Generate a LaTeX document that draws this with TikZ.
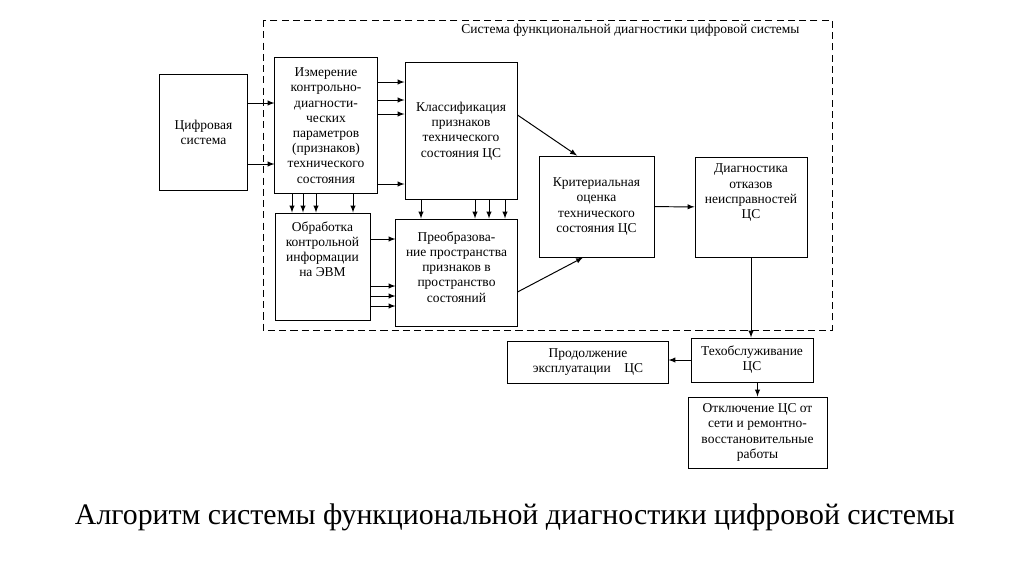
\documentclass[tikz,border=0pt]{standalone}
\usepackage{fontspec}
\setmainfont{Liberation Serif}
\usepackage{tikz}
\usetikzlibrary{positioning}

\begin{document}
\begin{tikzpicture}[x=0.025cm, y=-0.025cm, >=latex, line width=0.7pt,
    box/.style={rectangle, draw, align=center, inner sep=1pt,
        font=\fontsize{9.6}{10.8}\selectfont},
    txt/.style={align=center, inner sep=0pt, font=\fontsize{9.6}{10.8}\selectfont}]
        \useasboundingbox (0,0) rectangle (1024,574);

        % Frame
        \draw[dash pattern=on 5pt off 3pt] (263,20) rectangle (832,330);
        \node (frametitle) [txt, anchor=east] at (800,30) {Система функциональной диагностики цифровой системы};

        % Nodes
        \node (cifr) [box, minimum width=2.175cm, minimum height=2.875cm] at (203.5,132.5) {Цифровая\\система};
        \node (izmer) [box, minimum width=2.55cm, minimum height=3.375cm] at (326,125.5) {Измерение\\контрольно-\\диагности-\\ческих\\параметров\\(признаков)\\технического\\состояния};
        \node (klass) [box, minimum width=2.8cm, minimum height=3.4cm] at (461,131) {Классификация\\признаков\\технического\\состояния ЦС};
        \node (obrab) [box, minimum width=2.375cm, minimum height=2.675cm] at (322.5,266.5) {};
        \node (obrabtext) [txt, below=6pt of obrab.north] {Обработка\\контрольной\\информации\\на ЭВМ};
        \node (preob) [box, minimum width=3.025cm, minimum height=2.675cm] at (456.5,272.5) {};
        \node (preobtext) [txt, below=9pt of preob.north] {Преобразова-\\ние пространства\\признаков в\\пространство\\состояний};
        \node (krit) [box, minimum width=2.875cm, minimum height=2.525cm] at (596.5,206.5) {Критериальная\\оценка\\технического\\состояния ЦС};
        \node (diag) [box, minimum width=2.8cm, minimum height=2.5cm] at (751,207) {};
        \node (diagtext) [txt, below=5pt of diag.north] {Диагностика\\отказов\\неисправностей\\ЦС};
        \node (prodol) [box, minimum width=4cm, minimum height=1.05cm] at (588,362) {Продолжение\\эксплуатации\quad ЦС};
        \node (tekho) [box, minimum width=3.05cm, minimum height=1.1cm] at (752,360) {Техобслуживание\\ЦС};
        \node (otkl) [box, minimum width=3.475cm, minimum height=1.775cm] at (757.5,432.5) {Отключение ЦС от\\сети и ремонтно-\\восстановительные\\работы};

        % Arrows
        \foreach \yy in {103,164}
            \draw[->] (cifr.east |- 0,\yy) -- (izmer.west |- 0,\yy);
        \foreach \yy in {82,100,114,184}
            \draw[->] (izmer.east |- 0,\yy) -- (klass.west |- 0,\yy);
        \foreach \xx in {292,303,316,353}
            \draw[->] (izmer.south -| \xx,0) -- (obrab.north -| \xx,0);
        \foreach \xx in {421,475,489,505}
            \draw[->] (klass.south -| \xx,0) -- (preob.north -| \xx,0);
        \foreach \yy in {239,286,296,306}
            \draw[->] (obrab.east |- 0,\yy) -- (preob.west |- 0,\yy);
        \draw[->] (klass.east |- 0,115) -- (krit.north -| 577,0);
        \draw[->] (preob.east |- 0,292) -- (krit.south -| 583,0);
        \draw[->] (krit) -- (diag);
        \draw[->] (diag.south) -- (diag.south |- tekho.north);
        \draw[->] (tekho.west) -- (prodol.east |- tekho.west);
        \draw[->] (otkl.north |- tekho.south) -- (otkl.north);

        % Caption
        \node (caption) [inner sep=0pt, font=\fontsize{21.2}{24}\selectfont] at (515,517) {Алгоритм системы функциональной диагностики цифровой системы};
    \end{tikzpicture}
\end{document}
